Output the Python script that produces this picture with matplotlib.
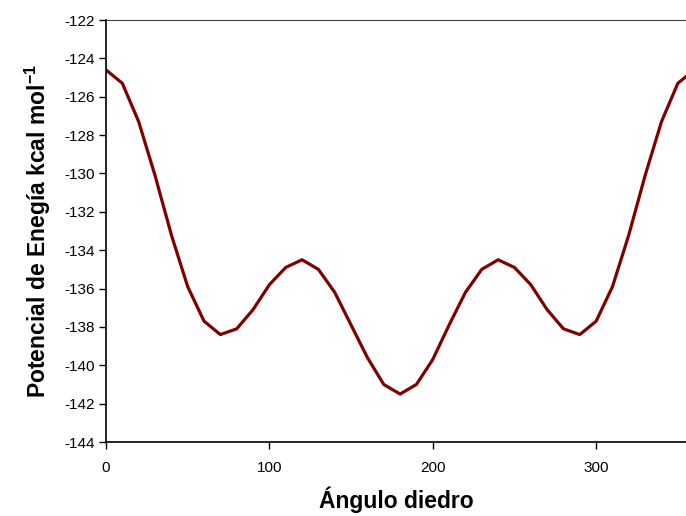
import matplotlib
matplotlib.use('Agg')
import matplotlib.pyplot as plt
import numpy as np

plt.rcParams['font.family'] = ['Liberation Sans', 'DejaVu Sans']
plt.rcParams['mathtext.fontset'] = 'custom'
plt.rcParams['mathtext.rm'] = 'Liberation Sans'
plt.rcParams['mathtext.bf'] = 'Liberation Sans:bold'
plt.rcParams['axes.unicode_minus'] = False

# dihedral scan, every 10 degrees
angle = [0, 10, 20, 30, 40, 50, 60, 70, 80, 90, 100, 110, 120, 130, 140, 150, 160, 170, 180,
         190, 200, 210, 220, 230, 240, 250, 260, 270, 280, 290, 300, 310, 320, 330, 340, 350, 360]
energy = [-124.6, -125.3, -127.3, -130.1, -133.2, -135.9, -137.7, -138.4, -138.1, -137.1,
          -135.8, -134.9, -134.5, -135.0, -136.2, -137.9, -139.6, -141.0, -141.5,
          -141.0, -139.7, -137.9, -136.2, -135.0, -134.5, -134.9, -135.8, -137.1,
          -138.1, -138.4, -137.7, -135.9, -133.2, -130.1, -127.3, -125.3, -124.6]

fig = plt.figure(figsize=(6.86, 5.16), dpi=100)
ax = fig.add_axes([106/686, 1-442/516, 1-106/686, (442-20)/516])

ax.plot(angle, energy, color='#800000', linewidth=2.3)

ax.set_xlim(0, 355)
ax.set_ylim(-144, -122)
ax.set_xticks([0, 100, 200, 300])
ax.set_yticks(np.arange(-144, -121, 2))
ax.tick_params(direction='out', length=5, width=1, labelsize=11, colors='black')
ax.tick_params(axis='x', pad=9)
ax.tick_params(axis='y', pad=3)

ax.spines['right'].set_visible(False)
ax.spines['top'].set_color('#404040')
for s in ['left', 'bottom']:
    ax.spines[s].set_linewidth(1.2)

ax.set_xlabel('Ángulo diedro', fontsize=16.5, fontweight='bold', labelpad=8)
ax.set_ylabel(r'Potencial de Enegía kcal mol$^{\mathbf{-1}}$', fontsize=16.5,
              fontweight='bold', labelpad=8)

fig.savefig('out.png', dpi=100)
